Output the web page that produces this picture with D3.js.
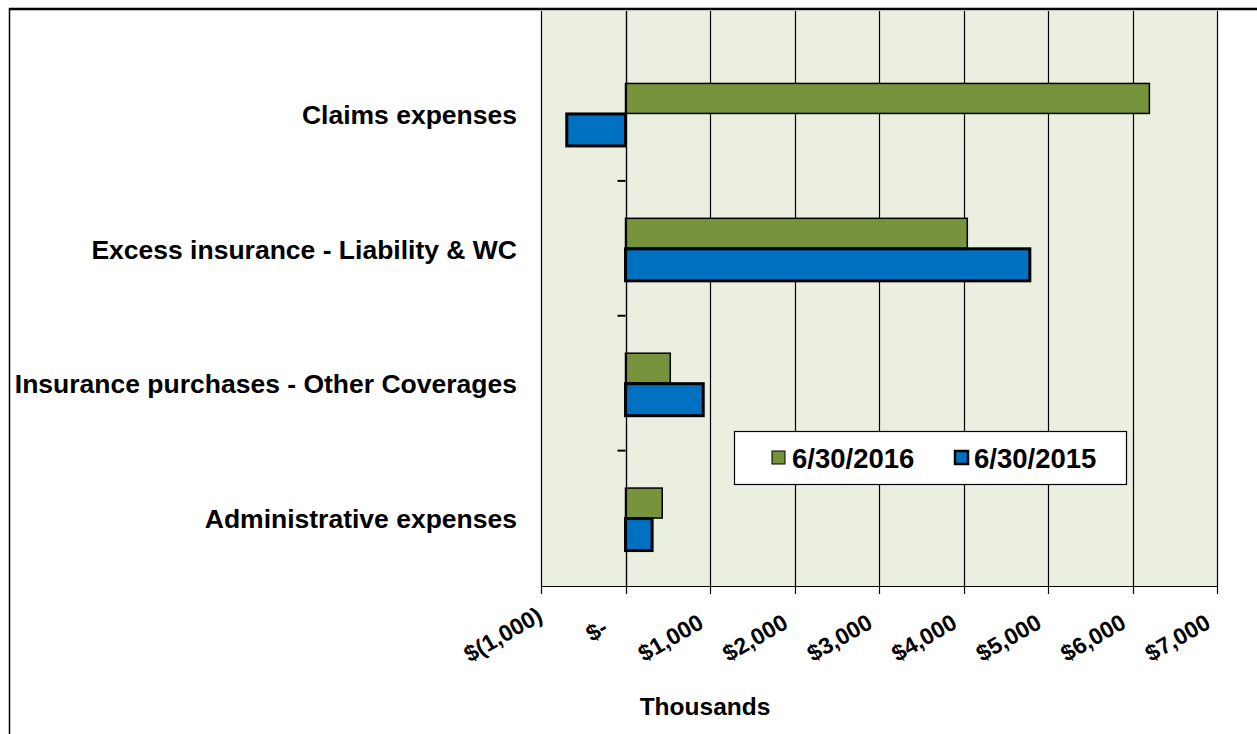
<!DOCTYPE html>
<html><head><meta charset="utf-8">
<script src="https://cdn.jsdelivr.net/npm/d3@7"></script>
<style>body{margin:0;background:#fff;} svg{display:block;font-family:"Liberation Sans",Arial,sans-serif;}</style>
</head><body>
<svg id="c" width="1257" height="734"></svg>
<script>
const categories = ["Claims expenses","Excess insurance - Liability & WC","Insurance purchases - Other Coverages","Administrative expenses"];
const seriesNames = ["6/30/2016","6/30/2015"];
const values2016 = [6200, 4045, 530, 435];
const values2015 = [-695, 4785, 920, 315];
const xTicks = [-1000,0,1000,2000,3000,4000,5000,6000,7000];
const xTickLabels = ["$(1,000)","$-","$1,000","$2,000","$3,000","$4,000","$5,000","$6,000","$7,000"];
const colors = ["#77933C","#0070C0"];

const svg = d3.select("#c");
const left = 541, right = 1217, bandTop = 46, bottom = 586, plotTop = 10;
const x = d3.scaleLinear().domain([-1000,7000]).range([left,right]);
const y = d3.scaleBand().domain(categories).range([bandTop,585.5]);

// outer border (top & left visible)
svg.append("line").attr("x1",9).attr("x2",1257).attr("y1",9).attr("y2",9).attr("stroke","#000").attr("stroke-width",2.5);
svg.append("line").attr("x1",9.5).attr("x2",9.5).attr("y1",8).attr("y2",734).attr("stroke","#000").attr("stroke-width",1.5);

// plot bg
svg.append("rect").attr("x",left).attr("y",plotTop+1).attr("width",right-left).attr("height",bottom-plotTop-1).attr("fill","#EBEFDF");

// gridlines
svg.append("g").selectAll("line").data(xTicks).join("line")
  .attr("x1",d=>Math.round(x(d))+0.5).attr("x2",d=>Math.round(x(d))+0.5)
  .attr("y1",plotTop+1).attr("y2",bottom+8).attr("stroke","#000").attr("stroke-width",1.2);
svg.append("line").attr("x1",left).attr("x2",right+0.5).attr("y1",bottom+0.5).attr("y2",bottom+0.5).attr("stroke","#000").attr("stroke-width",1.2);

// x tick labels (accounting format padding: negatives flush, positives padded, zero padded more)
svg.append("g").selectAll("text").data(xTicks).join("text")
  .attr("transform",d=>{
    const off = d < 0 ? 3 : (d === 0 ? -16 : -5);
    const py = d < 0 ? 620 : (d === 0 ? 632 : 627);
    return `translate(${x(d)+off},${py}) rotate(-30)`;
  })
  .attr("text-anchor","end").attr("font-weight","bold").attr("font-size",23)
  .attr("fill","#000")
  .text((d,i)=>xTickLabels[i]);

// category ticks on zero axis
const catTicks = [1,2,3].map(i=>y.range()[0] + y.step()*i);
svg.append("g").selectAll("line").data(catTicks).join("line")
  .attr("x1",x(0)-8).attr("x2",x(0)).attr("y1",d=>d).attr("y2",d=>d).attr("stroke","#000").attr("stroke-width",2);

// bars
const barHa = 30, barHb = 32;
const rows = categories.map((c,i)=>({c, a: values2016[i], b: values2015[i]}));
const g = svg.append("g");
g.selectAll("rect.a").data(rows).join("rect").attr("class","a")
  .attr("x",d=>x(Math.min(0,d.a))).attr("width",d=>Math.abs(x(d.a)-x(0)))
  .attr("y",d=>y(d.c)+y.bandwidth()/2-barHa).attr("height",barHa)
  .attr("fill",colors[0]).attr("stroke","#000").attr("stroke-width",1.5);
g.selectAll("rect.b").data(rows).join("rect").attr("class","b")
  .attr("x",d=>x(Math.min(0,d.b))).attr("width",d=>Math.abs(x(d.b)-x(0)))
  .attr("y",d=>y(d.c)+y.bandwidth()/2+0.5).attr("height",barHb)
  .attr("fill",colors[1]).attr("stroke","#000").attr("stroke-width",3);

// zero axis line
svg.append("line").attr("x1",Math.round(x(0))+0.5).attr("x2",Math.round(x(0))+0.5).attr("y1",plotTop+1).attr("y2",bottom).attr("stroke","#000").attr("stroke-width",1.2);

// category labels
svg.append("g").selectAll("text").data(categories).join("text")
  .attr("x",517).attr("y",d=>y(d)+y.bandwidth()/2+1).attr("dy","0.35em")
  .attr("text-anchor","end").attr("font-weight","bold").attr("font-size",26.5)
  .text(d=>d);

// axis title
svg.append("text").attr("x",705).attr("y",715).attr("text-anchor","middle")
  .attr("font-weight","bold").attr("font-size",24.5).text("Thousands");

// legend
const lg = svg.append("g");
lg.append("rect").attr("x",734.5).attr("y",431.5).attr("width",392).attr("height",53).attr("fill","#fff").attr("stroke","#000").attr("stroke-width",1.2);
const litems = [{n:seriesNames[0],c:colors[0],sx:772,tx:792,sw:1},{n:seriesNames[1],c:colors[1],sx:955,tx:974,sw:2.5}];
litems.forEach(it=>{
  lg.append("rect").attr("x",it.sx).attr("y",451).attr("width",13).attr("height",13).attr("fill",it.c).attr("stroke","#000").attr("stroke-width",it.sw);
  lg.append("text").attr("x",it.tx).attr("y",467.5).attr("font-size",27.5).attr("font-weight","bold").text(it.n);
});
</script>
</body></html>
